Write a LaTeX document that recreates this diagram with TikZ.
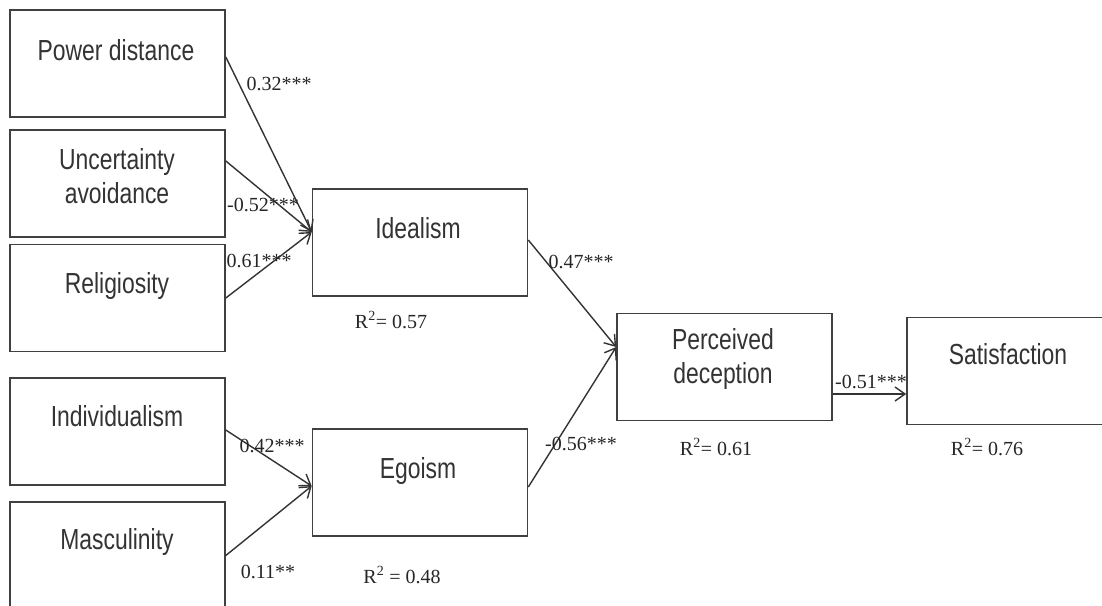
\documentclass[tikz,border=0pt]{standalone}
\usepackage{fontspec}
\setmainfont{Liberation Serif}
\newfontfamily\boxfont{Liberation Sans}
\usetikzlibrary{calc,arrows.meta}
\newcommand\narrow[1]{\scalebox{0.79}[1]{#1}}

\tikzset{
	var/.style={draw=black!75, line width=1.6pt, minimum width=215pt, minimum height=107pt, inner sep=0pt},
	vartext/.style={text=black!80, font=\boxfont\fontsize{29}{34}\selectfont, align=center, inner sep=0pt},
	coef/.style={text=black!85, font=\fontsize{20}{24}\selectfont, inner sep=0pt, anchor=base},
	link/.style={draw=black!80, line width=1.4pt, -{Straight Barb[length=10pt,width=14pt]}},
}

\begin{document}
\begin{tikzpicture}[x=1pt, y=-1pt]
		%%%%% START %%%%%
		
		\fill[white] (0, 0) rectangle (1102, 605);
		\useasboundingbox (0, 0) rectangle (1102, 605);
		
		\node[var] (pd) at (117.5, 63.5) {};
		\node[var] (ua) at (117.5, 183.5) {};
		\node[var] (rel) at (117.5, 298) {};
		\node[var] (ind) at (117.5, 431.5) {};
		\node[var] (mas) at (117.5, 555.5) {};
		
		\node[var] (ide) at (420, 242.5) {};
		\node[var] (ego) at (420, 482.5) {};
		\node[var] (pdc) at (724.5, 367) {};
		\node[var] (sat) at (1014.5, 371) {};
		
		\node[vartext, anchor=base] (pdt) at (116, 60) {\narrow{Power distance}};
		\node[vartext] (uat) at (117, 176) {\narrow{Uncertainty}\\\narrow{avoidance}};
		\node[vartext, anchor=base] (relt) at (117, 293) {\narrow{Religiosity}};
		\node[vartext, anchor=base] (indt) at (117, 426) {\narrow{Individualism}};
		\node[vartext, anchor=base] (mast) at (117, 549) {\narrow{Masculinity}};
		\node[vartext, anchor=base] (idet) at (418, 238) {\narrow{Idealism}};
		\node[vartext, anchor=base] (egot) at (418, 478) {\narrow{Egoism}};
		\node[vartext] (pdct) at (723, 359) {\narrow{Perceived}\\\narrow{deception}};
		\node[vartext, anchor=base] (satt) at (1008, 364) {\narrow{Satisfaction}};
		
		\draw[link] ($(pd.east)+(0,-6.5)$) -- ($(ide.west)+(0,-10.5)$);
		\draw[link] ($(ua.east)+(0,-22.5)$) -- ($(ide.west)+(0,-10.5)$);
		\draw[link] (rel.east) -- ($(ide.west)+(0,-10.5)$);
		\draw[link] ($(ind.east)+(0,-1.5)$) -- ($(ego.west)+(0,3.5)$);
		\draw[link] (mas.east) -- ($(ego.west)+(0,3.5)$);
		\draw[link] ($(ide.east)+(0,-2.5)$) -- ($(pdc.west)+(0,-20)$);
		\draw[link] ($(ego.east)+(0,4.5)$) -- ($(pdc.west)+(0,-20)$);
		\draw[link] ($(pdc.east)+(0,27)$) -- ($(sat.west)+(0,23)$);
		
		\node[coef] (c1) at (279, 90) {0.32***};
		\node[coef] (c2) at (263, 211) {-0.52***};
		\node[coef] (c3) at (259, 267) {0.61***};
		\node[coef] (c4) at (272, 452) {0.42***};
		\node[coef] (c5) at (268, 578) {0.11**};
		\node[coef] (c6) at (581, 268) {0.47***};
		\node[coef] (c7) at (581, 450) {-0.56***};
		\node[coef] (c8) at (871, 388) {-0.51***};
		
		\node[coef] (r1) at (391, 328) {R\textsuperscript{2}= 0.57};
		\node[coef] (r2) at (402, 583) {R\textsuperscript{2} = 0.48};
		\node[coef] (r3) at (716, 455) {R\textsuperscript{2}= 0.61};
		\node[coef] (r4) at (987, 455) {R\textsuperscript{2}= 0.76};
		
		%%%%% END %%%%%
\end{tikzpicture}
\end{document}
